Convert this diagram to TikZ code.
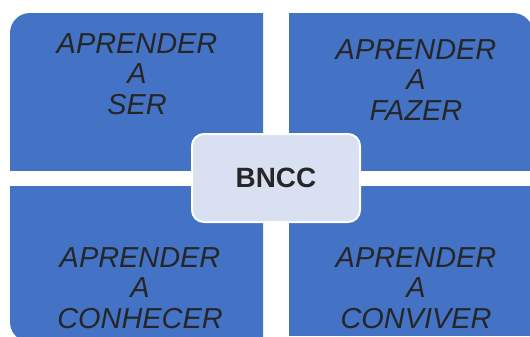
\documentclass[tikz,border=0pt]{standalone}
\usepackage{fontspec}
\setmainfont{Liberation Sans}
\definecolor{qblue}{HTML}{4472C4}
\definecolor{ctr}{HTML}{D9E0F2}
\definecolor{txt}{HTML}{262626}
\begin{document}
\begin{tikzpicture}[x=1bp,y=-1bp,
  quad/.style={fill=qblue},
  lbl/.style={align=center, font=\fontsize{29}{30.5}\selectfont\itshape, text=txt, inner sep=0pt},
  hub/.style={draw=white, line width=2bp, fill=ctr, rounded corners=12bp, minimum width=168bp, minimum height=88bp, font=\fontsize{28}{30}\selectfont\bfseries, text=txt}]
\useasboundingbox (0,0) rectangle (530,336);
\begin{scope}
  \clip (0,0) rectangle (263,170);
  \fill[quad, rounded corners=20bp] (10,13) rectangle (300,200);
\end{scope}
\begin{scope}
  \clip (289,0) rectangle (530,170);
  \fill[quad, rounded corners=20bp] (250,13) rectangle (533,200);
\end{scope}
\begin{scope}
  \clip (0,186) rectangle (263,336);
  \fill[quad, rounded corners=20bp] (10,150) rectangle (300,342);
\end{scope}
\fill[quad] (289,186) rectangle (530,336);
\node[lbl] (tl) at (137,74) {APRENDER\\A\\SER};
\node[lbl] (tr) at (416,80) {APRENDER\\A\\FAZER};
\node[lbl] (bl) at (140,288) {APRENDER\\A\\CONHECER};
\node[lbl] (br) at (416,288) {APRENDER\\A\\CONVIVER};
\node[hub] (bncc) at (276,178) {BNCC};
\end{tikzpicture}
\end{document}
